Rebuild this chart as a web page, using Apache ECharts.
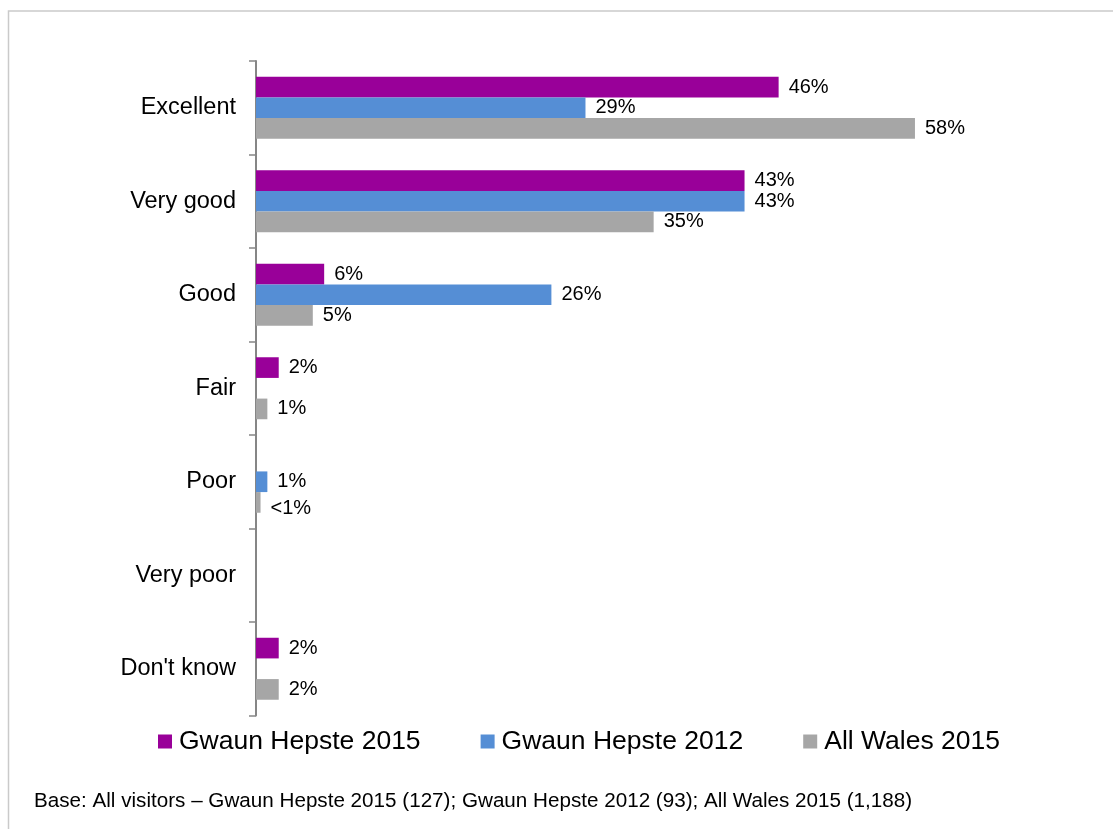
<!DOCTYPE html>
<html>
<head>
<meta charset="utf-8">
<script src="https://cdn.jsdelivr.net/npm/echarts@6/dist/echarts.min.js"></script>
<style>
html,body{margin:0;padding:0;background:#fff;}
#c{width:1113px;height:829px;}
</style>
</head>
<body>
<div id="c"></div>
<script>
var categories = ['Excellent', 'Very good', 'Good', 'Fair', 'Poor', 'Very poor', "Don't know"];
var seriesNames = ['Gwaun Hepste 2015', 'Gwaun Hepste 2012', 'All Wales 2015'];
var gwaun2015 = [46, 43, 6, 2, 0, 0, 2];
var gwaun2012 = [29, 43, 26, 0, 1, 0, 0];
var allWales2015 = [58, 35, 5, 1, 0.4, 0, 2];
var colors = ['#990099', '#558ED5', '#A6A6A6'];
var footnote = 'Base: All visitors \u2013 Gwaun Hepste 2015 (127); Gwaun Hepste 2012 (93); All Wales 2015 (1,188)';

var FONT = '"Liberation Sans", Arial, sans-serif';

function fmt(p) {
  var v = p.value;
  if (!v) return '';
  if (v < 1) return '<1%';
  return v + '%';
}

function mkSeries(name, data, color) {
  return {
    name: name,
    type: 'bar',
    data: data.map(function (v) {
      return (v > 0 && v < 1) ? { value: v, label: { offset: [0, 6] } } : v;
    }),
    barGap: '0%',
    barCategoryGap: '33.7%',
    itemStyle: { color: color },
    label: {
      show: true,
      position: 'right',
      distance: 10,
      formatter: fmt,
      color: '#000',
      fontSize: 20,
      fontFamily: FONT
    },
    emphasis: { disabled: true },
    animation: false
  };
}

var chart = echarts.init(document.getElementById('c'), null, { renderer: 'canvas' });
chart.setOption({
  backgroundColor: '#fff',
  animation: false,
  grid: { left: 256, top: 61, width: 795.3, height: 654.5, containLabel: false },
  xAxis: {
    type: 'value',
    min: 0,
    max: 70,
    show: false
  },
  yAxis: {
    type: 'category',
    data: categories,
    inverse: true,
    axisLine: { show: true, lineStyle: { color: '#868686', width: 2 } },
    axisTick: { show: true, length: 7, lineStyle: { color: '#868686', width: 1.5 } },
    axisLabel: { color: '#000', fontSize: 23.5, fontFamily: FONT, margin: 20 },
    splitLine: { show: false }
  },
  legend: {
    left: 153,
    top: 723,
    itemWidth: 14,
    itemHeight: 14,
    itemGap: 60,
    icon: 'rect',
    selectedMode: false,
    data: seriesNames,
    textStyle: { color: '#000', fontSize: 26.5, fontFamily: FONT, padding: [0, 0, 0, 2] }
  },
  series: [
    mkSeries(seriesNames[0], gwaun2015, colors[0]),
    mkSeries(seriesNames[1], gwaun2012, colors[1]),
    mkSeries(seriesNames[2], allWales2015, colors[2])
  ],
  graphic: [
    {
      type: 'rect',
      shape: { x: 8.5, y: 11, width: 1200, height: 900 },
      style: { fill: 'none', stroke: '#cacaca', lineWidth: 1.5 },
      silent: true
    },
    {
      type: 'text',
      x: 34,
      y: 801,
      style: { text: footnote, fill: '#000', font: '20.65px "Liberation Sans", Arial, sans-serif', textVerticalAlign: 'middle', verticalAlign: 'middle' },
      silent: true
    }
  ]
});
</script>
</body>
</html>
